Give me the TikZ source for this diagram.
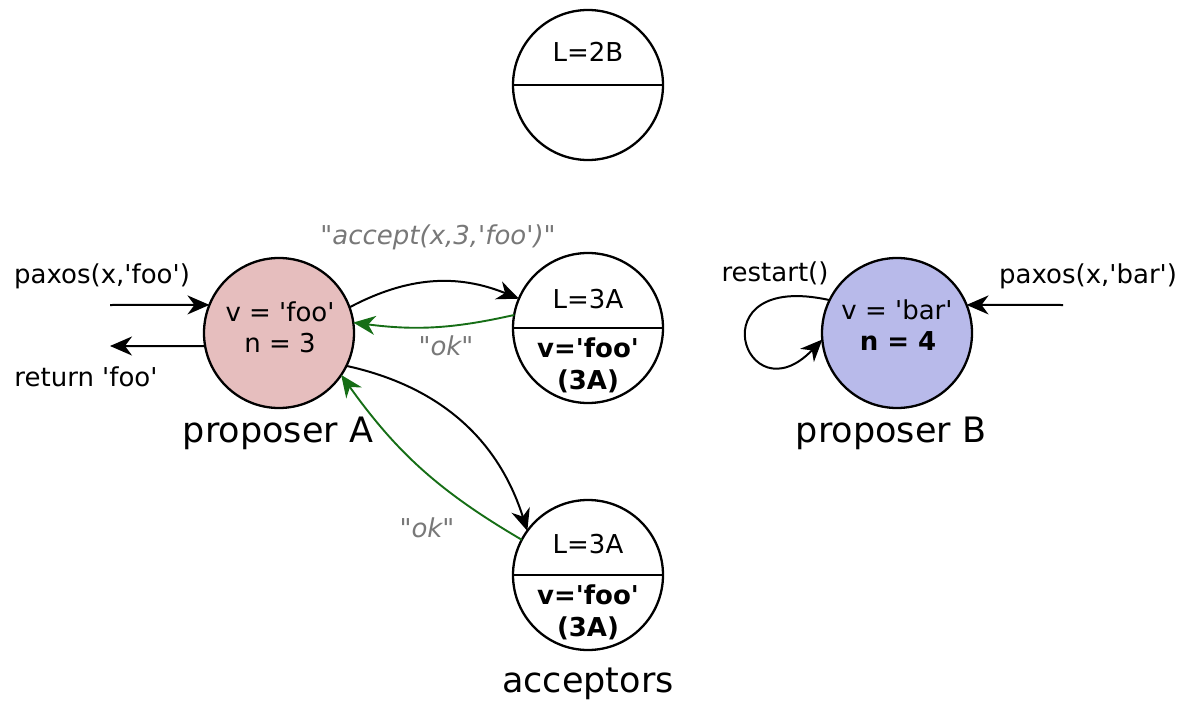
\documentclass[tikz,border=0pt]{standalone}
\usepackage{fontspec}
\setmainfont{DejaVu Sans}
\usetikzlibrary{arrows.meta}
\definecolor{pinkA}{RGB}{230,190,190}
\definecolor{blueB}{RGB}{184,186,234}
\definecolor{okgreen}{RGB}{22,110,22}
\definecolor{lblgray}{RGB}{120,120,120}
\newcommand{\sq}{\textquotesingle}
\newcommand{\dq}{\textquotedbl}
\tikzset{
  x=1pt, y=-1pt,
  every node/.style={inner sep=0pt, outer sep=0pt},
  actor/.style={circle, draw=black, line width=2.3pt, minimum size=150pt},
  divider/.style={line width=2.3pt},
  txt/.style={font=\fontsize{26}{30}\selectfont},
  big/.style={font=\fontsize{35}{40}\selectfont},
  msg/.style={font=\fontsize{26}{30}\selectfont\itshape, text=lblgray},
  arrowtip/.style={-{Stealth[length=22pt,width=19pt,inset=7pt]}},
  conn/.style={arrowtip, line width=2pt, draw=black},
  okconn/.style={arrowtip, line width=1.9pt, draw=okgreen},
}
\begin{document}
\begin{tikzpicture}
\useasboundingbox (0,0) rectangle (1180,706);
% acceptors
\node[actor] (acc1) at (588,85) {};
\draw[divider] (acc1.west) -- (acc1.east);
\node[txt] (acc1L) at (588,52) {L=2B};

\node[actor] (acc2) at (588,328) {};
\draw[divider] (acc2.west) -- (acc2.east);
\node[txt] (acc2L) at (588,299) {L=3A};
\node[txt] (acc2v) at (588,348) {\bfseries v=\sq foo\sq};
\node[txt] (acc2n) at (588,381) {\bfseries (3A)};

\node[actor] (acc3) at (588,575) {};
\draw[divider] (acc3.west) -- (acc3.east);
\node[txt] (acc3L) at (588,544) {L=3A};
\node[txt] (acc3v) at (588,595) {\bfseries v=\sq foo\sq};
\node[txt] (acc3n) at (588,628) {\bfseries (3A)};
\node[big] (accl) at (588,684) {acceptors};

% proposer A
\node[actor, fill=pinkA] (A) at (279,333) {};
\node[txt] (Av) at (280,312) {v = \sq foo\sq};
\node[txt] (An) at (280,343) {n = 3};
\node[big] (Al) at (278,433) {proposer A};

% proposer B
\node[actor, fill=blueB] (B) at (897,333) {};
\node[txt] (Bv) at (897,310) {v = \sq bar\sq};
\node[txt] (Bn) at (898,341) {\bfseries n = 4};
\node[big] (Bl) at (891,433) {proposer B};

% external labels
\node[txt] (pfoo) at (102,276) {paxos(x,\sq foo\sq)};
\node[txt] (rfoo) at (86,377) {return \sq foo\sq};
\node[txt] (pbar) at (1088,276) {paxos(x,\sq bar\sq)};
\node[txt] (rst) at (775,273) {restart()};

\coordinate (inA) at (110,305);
\coordinate (outA) at (110,346);
\coordinate (inB) at (1063,305);
\draw[conn] (inA) -- (A.158);
\draw[conn] (A.190) -- (outA);
\draw[conn] (inB) -- (B.22);
\draw[conn] (B.154) .. controls (695,270) and (745,420) .. (B.185);

% messages
\draw[conn] (A.20) to[bend left=25] (acc2.157);
\draw[okconn] (acc2.170) to[bend left=10] (A.8);
\draw[conn] (A.-26) to[bend left=30] (acc3.144);
\draw[okconn] (acc3.152) to[bend left=12] (A.-34);

\node[msg] (macc) at (438,237) {\dq accept(x,3,\sq foo\sq)\dq};
\node[msg] (mok1) at (446,346) {\dq ok\dq};
\node[msg] (mok2) at (427,528) {\dq ok\dq};
\end{tikzpicture}
\end{document}
